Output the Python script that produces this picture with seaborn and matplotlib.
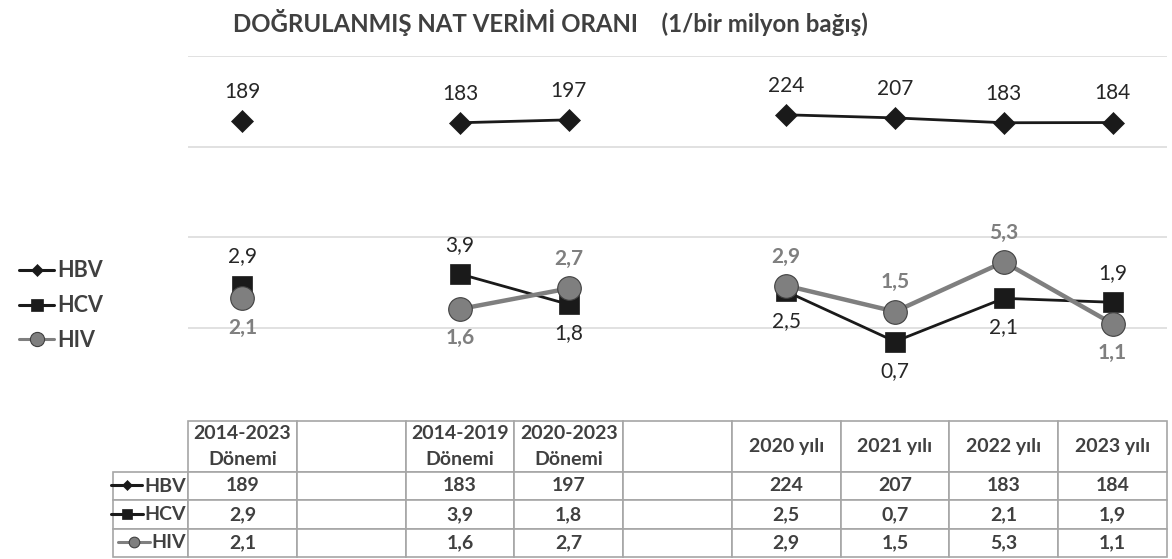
import numpy as np
import pandas as pd
import matplotlib
matplotlib.use("Agg")
import matplotlib.pyplot as plt
from matplotlib.lines import Line2D
from matplotlib.ticker import NullLocator
import seaborn as sns

################################
# data:
################################

categories = ["2014-2023\nDönemi", "", "2014-2019\nDönemi", "2020-2023\nDönemi", "",
              "2020 yılı", "2021 yılı", "2022 yılı", "2023 yılı"]
hbv = [189, None, 183, 197, None, 224, 207, 183, 184]
hcv = [2.9, None, 3.9, 1.8, None, 2.5, 0.7, 2.1, 1.9]
hiv = [2.1, None, 1.6, 2.7, None, 2.9, 1.5, 5.3, 1.1]
series_names = ["HBV", "HCV", "HIV"]
title = "DOĞRULANMIŞ NAT VERİMİ ORANI    (1/bir milyon bağış)"

################################
# style:
################################

sns.set_style("white")
plt.rcParams["font.family"] = ["Lato", "DejaVu Sans"]

W, H = 1172, 559
dark = "#262626"
grey_txt = "#404040"
hiv_grey = "#7f7f7f"

styles = {
    "HBV": dict(color="#1a1a1a", marker="D", markersize=11, linewidth=2.0,
                markerfacecolor="#1a1a1a", markeredgecolor="#1a1a1a", markeredgewidth=0.5),
    "HCV": dict(color="#1a1a1a", marker="s", markersize=15, linewidth=2.0,
                markerfacecolor="#1a1a1a", markeredgecolor="#1a1a1a", markeredgewidth=0.5),
    "HIV": dict(color=hiv_grey, marker="o", markersize=17, linewidth=3.2,
                markerfacecolor=hiv_grey, markeredgecolor="#404040", markeredgewidth=0.8),
}


def to_long(name, vals):
    seg = 0
    rows = []
    for i, v in enumerate(vals):
        if v is None:
            seg += 1
            continue
        rows.append({"idx": i, "value": v, "series": name, "segment": seg})
    return pd.DataFrame(rows)


def fmt(v, name):
    if name == "HBV":
        return str(int(v))
    return f"{v:.1f}".replace(".", ",")


################################
# plot:
################################

fig = plt.figure(figsize=(W / 100, H / 100), dpi=100)
ax = fig.add_axes([188 / W, (H - 418) / H, 979 / W, 362 / H])

all_vals = {"HBV": hbv, "HCV": hcv, "HIV": hiv}
for name in series_names:
    df = to_long(name, all_vals[name])
    sns.lineplot(data=df, x="idx", y="value", units="segment", estimator=None,
                 ax=ax, legend=False, **styles[name])

ax.set_yscale("log")
ax.set_ylim(0.1, 1000)
ax.set_xlim(-0.5, len(categories) - 0.5)
ax.set_yticks([1, 10, 100, 1000])
ax.yaxis.set_minor_locator(NullLocator())
ax.set_yticklabels([])
ax.set_xticks([])
ax.set_xlabel("")
ax.set_ylabel("")
ax.tick_params(length=0)
ax.grid(axis="y", color="#d9d9d9", linewidth=1.1)
for s in ax.spines.values():
    s.set_visible(False)

# data labels
label_side = {
    "HBV": [1, 0, 1, 1, 0, 1, 1, 1, 1],
    "HCV": [1, 0, 1, -1, 0, -1, -1, -1, 1],
    "HIV": [-1, 0, -1, 1, 0, 1, 1, 1, -1],
}
for name in series_names:
    for i, v in enumerate(all_vals[name]):
        if v is None:
            continue
        side = label_side[name][i]
        bold = name == "HIV"
        ax.annotate(fmt(v, name), (i, v), xytext=(0, 21 * side), textcoords="offset points",
                    ha="center", va="center", fontsize=15,
                    color=hiv_grey if bold else dark,
                    fontweight="bold" if bold else "normal")

# title
fig.text(550 / W, 1 - 22 / H, title, ha="center", va="center", fontsize=17.3,
         fontweight="bold", color=grey_txt)

# legend handles
def handle(name, scale):
    st = dict(styles[name])
    st["markersize"] = st["markersize"] * scale
    st["linewidth"] = 2.2
    return Line2D([], [], **st)

leg = fig.legend([handle(n, 0.6) for n in series_names], series_names,
                 loc="upper left", bbox_to_anchor=(0.0, 1 - 241 / H),
                 frameon=False, handlelength=1.6, handletextpad=0.15,
                 labelspacing=0.64, borderaxespad=0.5,
                 prop={"weight": "bold", "size": 15.5})
for t in leg.get_texts():
    t.set_color(grey_txt)

# data table
cell_text = []
for name in series_names:
    row = [""]
    for v in all_vals[name]:
        row.append("" if v is None else fmt(v, name))
    cell_text.append(row)

col_w = [75] + [108.8] * len(categories)
tab = ax.table(cellText=cell_text, colLabels=[""] + categories, colWidths=col_w,
               cellLoc="center", bbox=[(113 - 188) / 979, -0.384, (1167 - 113) / 979, 0.376])
tab.auto_set_font_size(False)
for (r, c), cell in tab.get_celld().items():
    cell.set_edgecolor("#a6a6a6")
    cell.set_linewidth(1.2)
    cell.set_height(51 if r == 0 else 28.5)
    txt = cell.get_text()
    txt.set_color(grey_txt)
    txt.set_fontweight("bold")
    txt.set_fontsize(14)
    if r == 0:
        txt.set_linespacing(1.6)
    if r == 0 and c == 0:
        cell.visible_edges = ""

# row labels with series keys inside the first column
row_centres = [486.5, 515, 543]
for name, yc in zip(series_names, row_centres):
    lg = fig.legend([handle(name, 0.45)], [name], loc="center right",
                    bbox_to_anchor=(186 / W, 1 - yc / H), frameon=False,
                    handlelength=1.6, handletextpad=0.1, borderaxespad=0, borderpad=0,
                    prop={"weight": "bold", "size": 14})
    for t in lg.get_texts():
        t.set_color(grey_txt)

fig.savefig("out.png", dpi=100)
